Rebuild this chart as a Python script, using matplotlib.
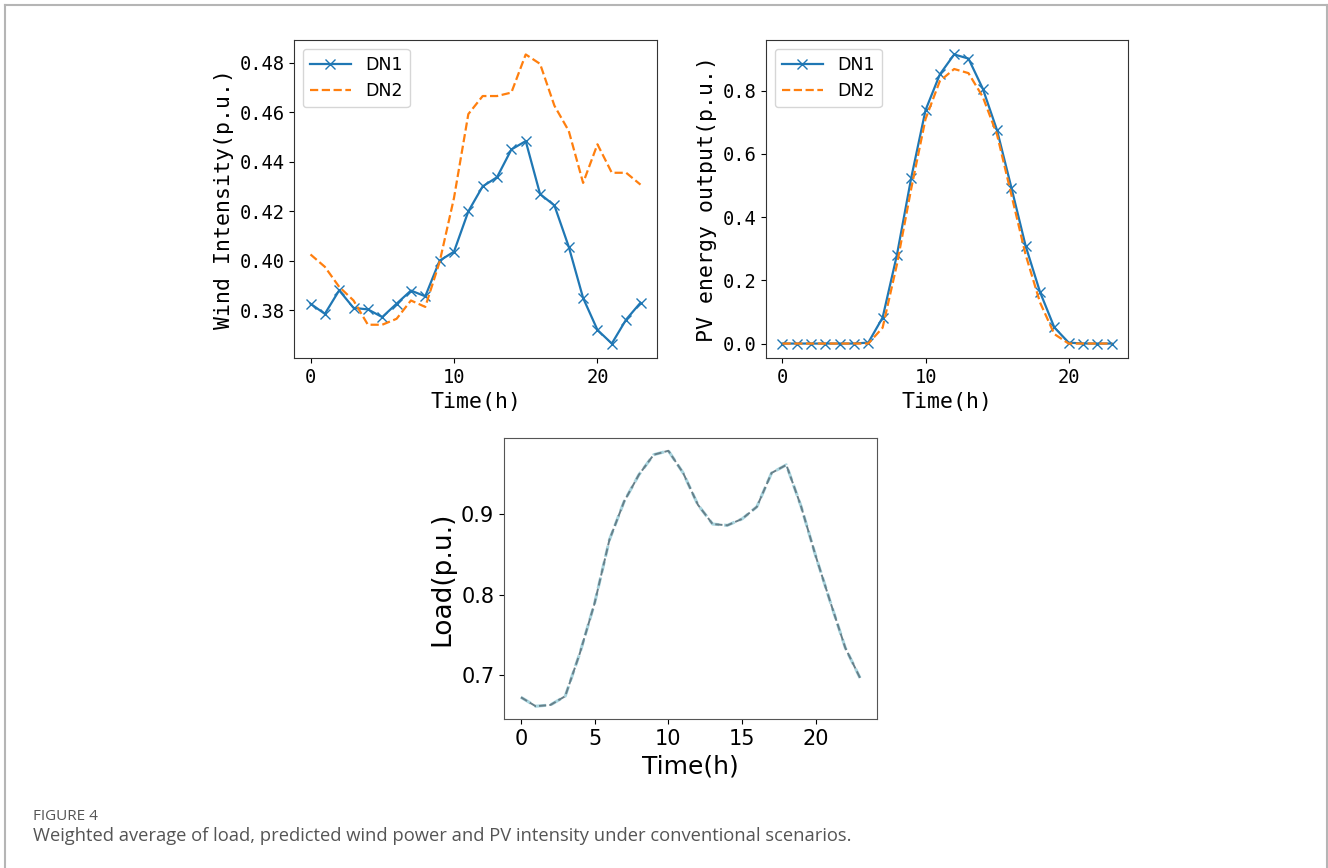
import matplotlib.pyplot as plt
from matplotlib.ticker import MultipleLocator
from matplotlib.lines import Line2D

hours = list(range(24))

wind_dn1 = [0.3827, 0.3786, 0.3881, 0.3810, 0.3804, 0.3773, 0.3827, 0.3880,
            0.3857, 0.4001, 0.4037, 0.4200, 0.4301, 0.4338, 0.4450, 0.4484,
            0.4270, 0.4224, 0.4057, 0.3850, 0.3721, 0.3666, 0.3763, 0.3831]
wind_dn2 = [0.4026, 0.3976, 0.3895, 0.3840, 0.3742, 0.3742, 0.3766, 0.3840,
            0.3814, 0.3996, 0.4254, 0.4593, 0.4666, 0.4666, 0.4680, 0.4834,
            0.4796, 0.4627, 0.4525, 0.4315, 0.4471, 0.4356, 0.4356, 0.4308]

pv_dn1 = [0, 0, 0, 0, 0, 0, 0.003, 0.082, 0.280, 0.524, 0.738, 0.851,
          0.914, 0.901, 0.806, 0.674, 0.493, 0.308, 0.163, 0.051, 0.003, 0, 0, 0]
pv_dn2 = [0, 0, 0, 0, 0, 0, 0.0, 0.050, 0.250, 0.490, 0.710, 0.830,
          0.868, 0.855, 0.780, 0.660, 0.470, 0.280, 0.130, 0.030, 0.0, 0, 0, 0]

load = [0.6727, 0.6616, 0.6632, 0.6740, 0.7277, 0.7897, 0.8680, 0.9157,
        0.9488, 0.9736, 0.9785, 0.9510, 0.9116, 0.8876, 0.8860, 0.8940,
        0.9090, 0.9510, 0.9610, 0.9095, 0.8475, 0.7900, 0.7340, 0.6967]

series_names = ["DN1", "DN2"]
caption_head = "FIGURE 4"
caption_text = "Weighted average of load, predicted wind power and PV intensity under conventional scenarios."

W, H = 1328, 868
fig = plt.figure(figsize=(W / 100, H / 100), dpi=100)

def box(l, t, r, b):
    return [l / W, 1 - b / H, (r - l) / W, (b - t) / H]

mono = "DejaVu Sans Mono"
blue = "#1f77b4"
orange = "#ff7f0e"

def style_top(ax, ylabel):
    ax.set_xlabel("Time(h)", fontsize=15.5, family=mono)
    ax.set_ylabel(ylabel, fontsize=15.5, family=mono)
    ax.xaxis.set_major_locator(MultipleLocator(10))
    for lab in ax.get_xticklabels() + ax.get_yticklabels():
        lab.set_family(mono)
        lab.set_fontsize(13.5)
    for s in ax.spines.values():
        s.set_color("#333333")
    ax.legend(loc="upper left", prop={"family": "DejaVu Sans", "size": 12.5},
              handlelength=2.4)

# wind
ax1 = fig.add_axes(box(294, 40, 657, 358))
ax1.plot(hours, wind_dn1, color=blue, marker="x", markersize=7, linewidth=1.6, label=series_names[0])
ax1.plot(hours, wind_dn2, color=orange, linestyle="--", linewidth=1.6, label=series_names[1])
ax1.yaxis.set_major_locator(MultipleLocator(0.02))
ax1.yaxis.set_major_formatter(lambda v, p: f"{v:.2f}")
style_top(ax1, "Wind Intensity(p.u.)")

# PV
ax2 = fig.add_axes(box(766, 40, 1128, 358))
ax2.plot(hours, pv_dn1, color=blue, marker="x", markersize=7, linewidth=1.6, label=series_names[0])
ax2.plot(hours, pv_dn2, color=orange, linestyle="--", linewidth=1.6, label=series_names[1])
ax2.yaxis.set_major_locator(MultipleLocator(0.2))
ax2.yaxis.set_major_formatter(lambda v, p: f"{v:.1f}")
style_top(ax2, "PV energy output(p.u.)")

# load
ax3 = fig.add_axes(box(504, 438, 877, 719))
ax3.plot(hours, load, color="#a8d4de", linestyle="--", linewidth=2.2)
ax3.plot(hours, load, color="#66808a", linestyle="--", linewidth=1.4)
ax3.xaxis.set_major_locator(MultipleLocator(5))
ax3.yaxis.set_major_locator(MultipleLocator(0.1))
ax3.set_xlabel("Time(h)", fontsize=18)
ax3.set_ylabel("Load(p.u.)", fontsize=19)
ax3.tick_params(labelsize=15)
for s in ax3.spines.values():
    s.set_color("#555555")

# card frame
frame_col = "#b5b5b5"
fig.add_artist(Line2D([4.5 / W, 4.5 / W], [0, 1 - 5 / H], color=frame_col, lw=1.5))
fig.add_artist(Line2D([4.5 / W, 1326.5 / W], [1 - 5 / H, 1 - 5 / H], color=frame_col, lw=1.5))
fig.add_artist(Line2D([1326.5 / W, 1326.5 / W], [0, 1 - 5 / H], color=frame_col, lw=1.5))

fig.text(33 / W, 1 - 816 / H, caption_head, fontsize=11, color="#555555",
         family="Open Sans", va="center")
fig.text(33 / W, 1 - 836 / H, caption_text, fontsize=13.2, color="#555555",
         family="Open Sans", va="center")

fig.savefig("out.png", dpi=100, facecolor="white")
